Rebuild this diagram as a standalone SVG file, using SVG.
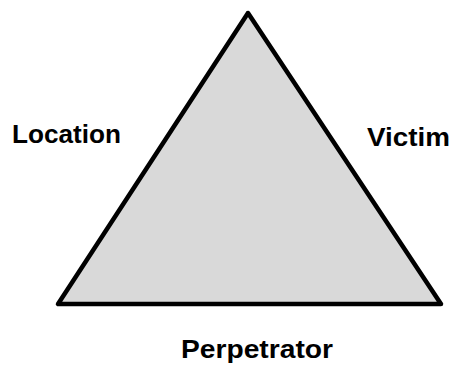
<svg xmlns="http://www.w3.org/2000/svg" width="453" height="365" viewBox="0 0 453 365">
<style>
.lbl{font-family:"Liberation Sans",Arial,sans-serif;font-weight:bold;font-size:25px;fill:#000}
.tri{fill:#d9d9d9;stroke:#000;stroke-width:4.5;stroke-linejoin:round}
</style>
<rect width="453" height="365" fill="#fff"/>
<g id="triangle">
<polygon class="tri" points="248,13 58,304 441,304"/>
</g>
<g id="connectors"></g>
<g id="location"><text class="lbl" x="12" y="143" textLength="109" lengthAdjust="spacingAndGlyphs">Location</text></g>
<g id="victim"><text class="lbl" x="367" y="146" textLength="83" lengthAdjust="spacingAndGlyphs">Victim</text></g>
<g id="perpetrator"><text class="lbl" x="181" y="358" textLength="152" lengthAdjust="spacingAndGlyphs">Perpetrator</text></g>
</svg>
